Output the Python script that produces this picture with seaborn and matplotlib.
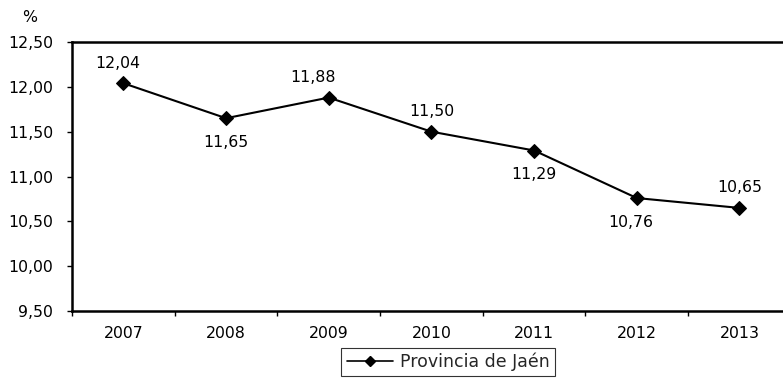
import matplotlib
matplotlib.use("Agg")
import matplotlib.pyplot as plt
import seaborn as sns
import pandas as pd
from matplotlib.ticker import FixedLocator, FuncFormatter
from matplotlib.lines import Line2D

years = ["2007", "2008", "2009", "2010", "2011", "2012", "2013"]
values = [12.04, 11.65, 11.88, 11.50, 11.29, 10.76, 10.65]
label_above = [True, False, True, True, False, False, True]
label_shift_x = [-4, 0, -11, 0, 0, -4, 0]  # points
series_name = "Provincia de Jaén"

sns.set_theme(style="white")
plt.rcParams["font.family"] = ["DejaVu Sans"]

df = pd.DataFrame({"year": years, "value": values, "serie": series_name})

fig = plt.figure(figsize=(7.83, 3.78), dpi=100)
ax = fig.add_axes([0.092, 0.177, 0.918, 0.712])

sns.lineplot(data=df, x="year", y="value", hue="serie", palette=["black"],
             marker="D", markersize=7.5, linewidth=1.5, markeredgecolor="black",
             ax=ax, legend=False, sort=False)

ax.set_xlim(-0.5, len(years) - 0.5)
ax.set_ylim(9.5, 12.5)
ax.yaxis.set_major_locator(FixedLocator([9.5, 10.0, 10.5, 11.0, 11.5, 12.0, 12.5]))
ax.yaxis.set_major_formatter(FuncFormatter(lambda v, p: f"{v:.2f}".replace(".", ",")))

ax.set_xticks(range(len(years)))
ax.set_xticklabels(years)
ax.set_xticks([i - 0.5 for i in range(len(years) + 1)], minor=True)
ax.tick_params(axis="x", which="major", length=0, pad=11, labelsize=11.3, colors="black")
ax.tick_params(axis="x", which="minor", length=3.6, width=1, color="black", direction="out", bottom=True)
ax.tick_params(axis="y", which="major", length=3.6, width=1, color="black", direction="out",
               left=True, pad=10, labelsize=11.3, labelcolor="black")
ax.set_xlabel("")
ax.set_ylabel("")

for s in ax.spines.values():
    s.set_color("black")
    s.set_linewidth(1.8)

for i, (v, up, dx) in enumerate(zip(values, label_above, label_shift_x)):
    txt = f"{v:.2f}".replace(".", ",")
    ax.annotate(txt, (i, v), xytext=(dx, 14.5 if up else -17.6), textcoords="offset points",
                ha="center", va="center", fontsize=11.3, color="black")

fig.text(30 / 783, 1 - 18 / 378, "%", ha="center", va="center", fontsize=11.3, color="black")

handle = Line2D([], [], color="black", marker="D", markersize=5, linewidth=1.2)
leg = fig.legend([handle], [series_name], loc="center", bbox_to_anchor=(448 / 783, 1 - 362 / 378),
                 frameon=True, fancybox=False, fontsize=12.5, handlelength=2.65,
                 borderpad=0.3, handletextpad=0.4, borderaxespad=0)
leg.get_frame().set_edgecolor("black")
leg.get_frame().set_linewidth(0.8)

fig.savefig("out.png", dpi=100)
